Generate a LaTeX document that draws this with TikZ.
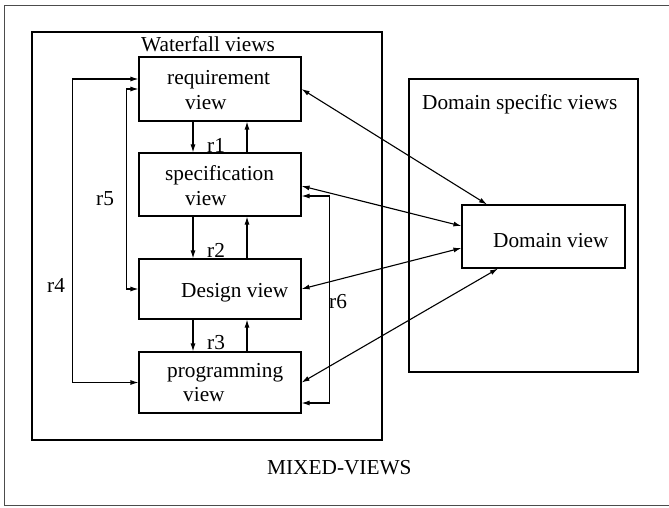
\documentclass[tikz,border=0pt]{standalone}
\usepackage{fontspec}
\setmainfont{Liberation Serif}
\usetikzlibrary{arrows.meta}
\begin{document}
\begin{tikzpicture}[x=1pt,y=-1pt,
  font=\fontsize{21.3}{25}\selectfont,
  viewbox/.style={draw,line width=1.1pt,inner sep=0pt},
  txt/.style={anchor=base west,inner sep=0pt},
  dbl/.style={line width=1.1pt,{Latex[length=8pt,width=5pt]}-{Latex[length=8pt,width=5pt]}},
  sgl/.style={line width=1.1pt,-{Latex[length=8pt,width=5pt]}}]
\useasboundingbox (0,0) rectangle (669,508);
% outer frame (open on the right)
\draw[line width=1pt,black!70] (669,5.5) -- (4,5.5) -- (4,505) -- (669,505);
% group frames
\draw[line width=2.8pt] (32,32) rectangle (382,440);
\draw[line width=1.5pt] (409,79) rectangle (638,372);
\node[txt] (wfl) at (141,52) {Waterfall views};
\node[txt] (dsl) at (422,110) {Domain specific views};
\node[txt] (mix) at (267,474) {MIXED-VIEWS};
% view boxes
\node[viewbox,minimum width=162pt,minimum height=64pt] (req) at (220,89) {};
\node[viewbox,minimum width=162pt,minimum height=63pt] (spec) at (220,184.5) {};
\node[viewbox,minimum width=162pt,minimum height=60pt] (des) at (220,289) {};
\node[viewbox,minimum width=162pt,minimum height=61pt] (prog) at (220,382.5) {};
\node[viewbox,minimum width=163pt,minimum height=63pt] (dom) at (543.5,236.5) {};
% box texts
\node[txt] (reqa) at (167,85) {requirement};
\node[txt] (reqb) at (185,110) {view};
\node[txt] (speca) at (165,180) {specification};
\node[txt] (specb) at (185,205) {view};
\node[txt] (desa) at (181,297) {Design view};
\node[txt] (proga) at (167,377) {programming};
\node[txt] (progb) at (183,401) {view};
\node[txt] (doma) at (493,247) {Domain view};
% waterfall steps
\draw[sgl] ([xshift=-27pt]req.south) -- ([xshift=-27pt]spec.north);
\draw[sgl] ([xshift=27pt]spec.north) -- ([xshift=27pt]req.south);
\draw[sgl] ([xshift=-27pt]spec.south) -- ([xshift=-27pt]des.north);
\draw[sgl] ([xshift=27pt]des.north) -- ([xshift=27pt]spec.south);
\draw[sgl] ([xshift=-27pt]des.south) -- ([xshift=-27pt]prog.north);
\draw[sgl] ([xshift=27pt]prog.north) -- ([xshift=27pt]des.south);
\node[txt] (r1) at (207,153) {r1};
\node[txt] (r2) at (207,257) {r2};
\node[txt] (r3) at (207,349) {r3};
% long relations
\draw[dbl] ([yshift=10pt]req.west) -- ++(-66,0) |- (prog.west);
\draw[dbl] (req.west) -- ++(-12,0) |- (des.west);
\draw[dbl] ([yshift=-11.5pt]spec.east) -- ++(28,0) |- ([yshift=-20.5pt]prog.east);
\node[txt] (r4) at (47,292) {r4};
\node[txt] (r5) at (96,205) {r5};
\node[txt] (r6) at (329,308) {r6};
% links to the domain view
\draw[dbl] (req.east) -- ([xshift=-56.5pt]dom.north);
\draw[dbl] ([yshift=-1.5pt]spec.east) -- ([yshift=10.5pt]dom.west);
\draw[dbl] (des.east) -- ([yshift=-11.5pt]dom.west);
\draw[dbl] (prog.east) -- ([xshift=-45.5pt]dom.south);
\end{tikzpicture}
\end{document}
